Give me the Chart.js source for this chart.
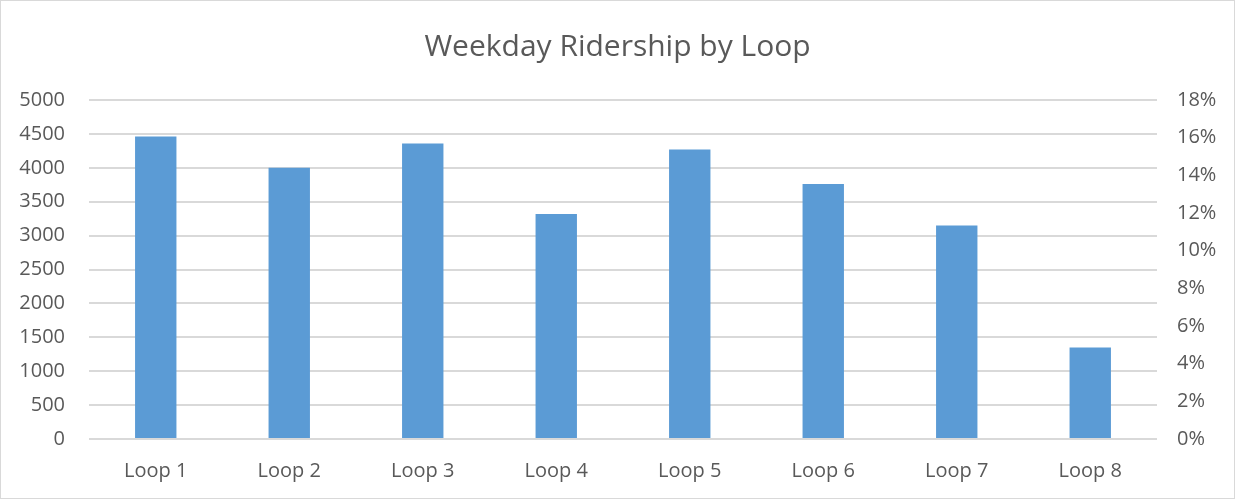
<!DOCTYPE html>
<html>
<head>
<meta charset="utf-8">
<script src="https://cdn.jsdelivr.net/npm/chart.js@4"></script>
<style>
  html, body { margin: 0; padding: 0; background: #fff; }
  #wrap { width: 1235px; height: 499px; box-sizing: border-box; border: 1px solid #d9d9d9; position: relative; }
</style>
</head>
<body>
<div id="wrap"><canvas id="ridership"></canvas></div>
<script>
// chart data
var loops = ["Loop 1", "Loop 2", "Loop 3", "Loop 4", "Loop 5", "Loop 6", "Loop 7", "Loop 8"];
var weekdayRiders = [4460, 4000, 4360, 3320, 4270, 3760, 3150, 1350];
var leftTicks = [0, 500, 1000, 1500, 2000, 2500, 3000, 3500, 4000, 4500, 5000];
var rightTicks = [0, 2, 4, 6, 8, 10, 12, 14, 16, 18];

var textColor = "#595959";
var fontFamily = "'Open Sans', 'Noto Sans', sans-serif";

new Chart("ridership", {
  type: "bar",
  data: {
    labels: loops,
    datasets: [{
      label: "Weekday Ridership",
      data: weekdayRiders,
      backgroundColor: "#5b9bd5",
      borderWidth: 0,
      barPercentage: 0.31,
      categoryPercentage: 1,
      yAxisID: "y"
    }]
  },
  options: {
    responsive: true,
    maintainAspectRatio: false,
    animation: false,
    layout: { padding: { top: 0, bottom: 0, left: 0, right: 0 } },
    plugins: {
      legend: { display: false },
      tooltip: { enabled: false },
      title: {
        display: true,
        text: "Weekday Ridership by Loop",
        color: textColor,
        font: { family: fontFamily, size: 30, weight: "normal" },
        padding: { top: 28, bottom: 35 }
      }
    },
    scales: {
      x: {
        grid: { display: false },
        border: { display: false },
        ticks: { color: textColor, font: { family: fontFamily, size: 20 }, padding: 12 },
        afterFit: function (s) { s.height = 59; }
      },
      y: {
        position: "left",
        min: 0,
        max: 5000,
        afterBuildTicks: function (s) { s.ticks = leftTicks.map(function (v) { return { value: v }; }); },
        grid: { color: "#d9d9d9", lineWidth: 2, drawTicks: false },
        border: { display: false },
        ticks: {
          color: textColor,
          font: { family: fontFamily, size: 20 },
          padding: 24,
          callback: function (v) { return String(v); }
        },
        afterFit: function (s) { s.width = 88; }
      },
      y2: {
        position: "right",
        min: 0,
        max: 18,
        afterBuildTicks: function (s) { s.ticks = rightTicks.map(function (v) { return { value: v }; }); },
        grid: { display: false, drawTicks: false },
        border: { display: false },
        ticks: {
          color: textColor,
          font: { family: fontFamily, size: 20 },
          padding: 20,
          callback: function (v) { return v + "%"; }
        },
        afterFit: function (s) { s.width = 77; }
      }
    }
  }
});
</script>
</body>
</html>
